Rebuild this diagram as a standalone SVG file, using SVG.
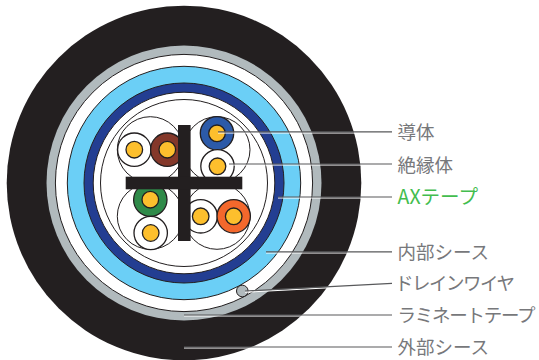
<svg xmlns="http://www.w3.org/2000/svg" width="539" height="360" viewBox="0 0 539 360">
<style>
.k{stroke:#231f20;stroke-width:1}
.t{stroke:#231f20;stroke-width:1;fill:none}
.w{fill:#fff;stroke:#231f20;stroke-width:1}
.ins{stroke:#231f20;stroke-width:1.3}
.core{fill:#fdbf2d;stroke:#231f20;stroke-width:1.3}
.halo{stroke:#fff;stroke-width:1.2;fill:none}
.lead{stroke:#58595b;stroke-width:1.2;fill:none}
text{font-family:"Noto Sans CJK JP","Noto Sans",sans-serif;font-size:18.5px;font-weight:400;fill:#77787b}
</style>
<rect width="539" height="360" fill="#fff"/>
<g id="outer-sheath"><circle cx="184" cy="183" r="177.3" fill="#231f20"/></g>
<g id="laminate-tape"><circle cx="184" cy="183" r="137.5" fill="#b1babd"/></g>
<g id="white-band"><circle cx="184" cy="183" r="128.6" class="w"/></g>
<g id="inner-sheath"><circle cx="184" cy="183" r="116.7" fill="#6bcff6" class="k"/></g>
<g id="ax-tape"><circle cx="184" cy="183" r="100" fill="#233e92" class="k"/></g>
<g id="inner-core"><circle cx="184" cy="183" r="90.8" class="w"/><circle cx="184" cy="183" r="83.5" class="t"/></g>
<g id="drain-wire"><circle cx="242.3" cy="291" r="5.8" fill="#b1babd" class="k"/></g>
<g id="pair-top-left"><circle cx="150.3" cy="149.7" r="33" class="w"/>
<circle cx="134.3" cy="149.7" r="16.7" fill="#fff" class="ins"/><circle cx="134.3" cy="149.7" r="8.3" class="core"/>
<circle cx="167.3" cy="149.7" r="16.7" fill="#84382a" class="ins"/><circle cx="167.3" cy="149.7" r="8.3" class="core"/></g>
<g id="pair-top-right"><circle cx="217" cy="149.7" r="33" class="w"/>
<circle cx="217" cy="133.3" r="16.7" fill="#2c5aa8" class="ins"/><circle cx="217" cy="133.3" r="8.3" class="core"/>
<circle cx="217.5" cy="166.3" r="16.7" fill="#fff" class="ins"/><circle cx="217.5" cy="166.3" r="8.3" class="core"/></g>
<g id="pair-bottom-left"><circle cx="150.3" cy="216.3" r="33" class="w"/>
<circle cx="150.3" cy="199.7" r="16.7" fill="#2f8a49" class="ins"/><circle cx="150.3" cy="199.7" r="8.3" class="core"/>
<circle cx="150.7" cy="233" r="16.7" fill="#fff" class="ins"/><circle cx="150.7" cy="233" r="8.3" class="core"/></g>
<g id="pair-bottom-right"><circle cx="217" cy="216.3" r="33" class="w"/>
<circle cx="200.7" cy="216.3" r="16.7" fill="#fff" class="ins"/><circle cx="200.7" cy="216.3" r="8.3" class="core"/>
<circle cx="233.7" cy="216.3" r="16.7" fill="#f4682c" class="ins"/><circle cx="233.7" cy="216.3" r="8.3" class="core"/></g>
<g id="cross-spacer" fill="#231f20"><rect x="178" y="125" width="12.6" height="116"/><rect x="125.7" y="176.7" width="116.600" height="12.6"/></g>
<g id="connectors">
<path class="halo" d="M218 133H392M229 165H392M278 198H392M266 253H392M245 292.200L392 284.400M184 316H392M184 348H392"/>
<path class="lead" d="M218 131.800H392M229 164H392M278 197H392M266 251.800H392M245 291L392 283.300M184 315H392M184 347H392"/>
</g>
<g id="label-conductor"><text x="397.500" y="139">導体</text></g>
<g id="label-insulator"><text x="397.500" y="171.500">絶縁体</text></g>
<g id="label-ax"><text x="397.500" y="204" style="fill:#43bd4e;font-size:19.5px">AXテープ</text></g>
<g id="label-inner"><text x="397.500" y="258.500">内部シース</text></g>
<g id="label-drain"><text x="395" y="290" textLength="120">ドレインワイヤ</text></g>
<g id="label-laminate"><text x="397.500" y="322" textLength="138">ラミネートテープ</text></g>
<g id="label-outer"><text x="397.500" y="354">外部シース</text></g>
</svg>
